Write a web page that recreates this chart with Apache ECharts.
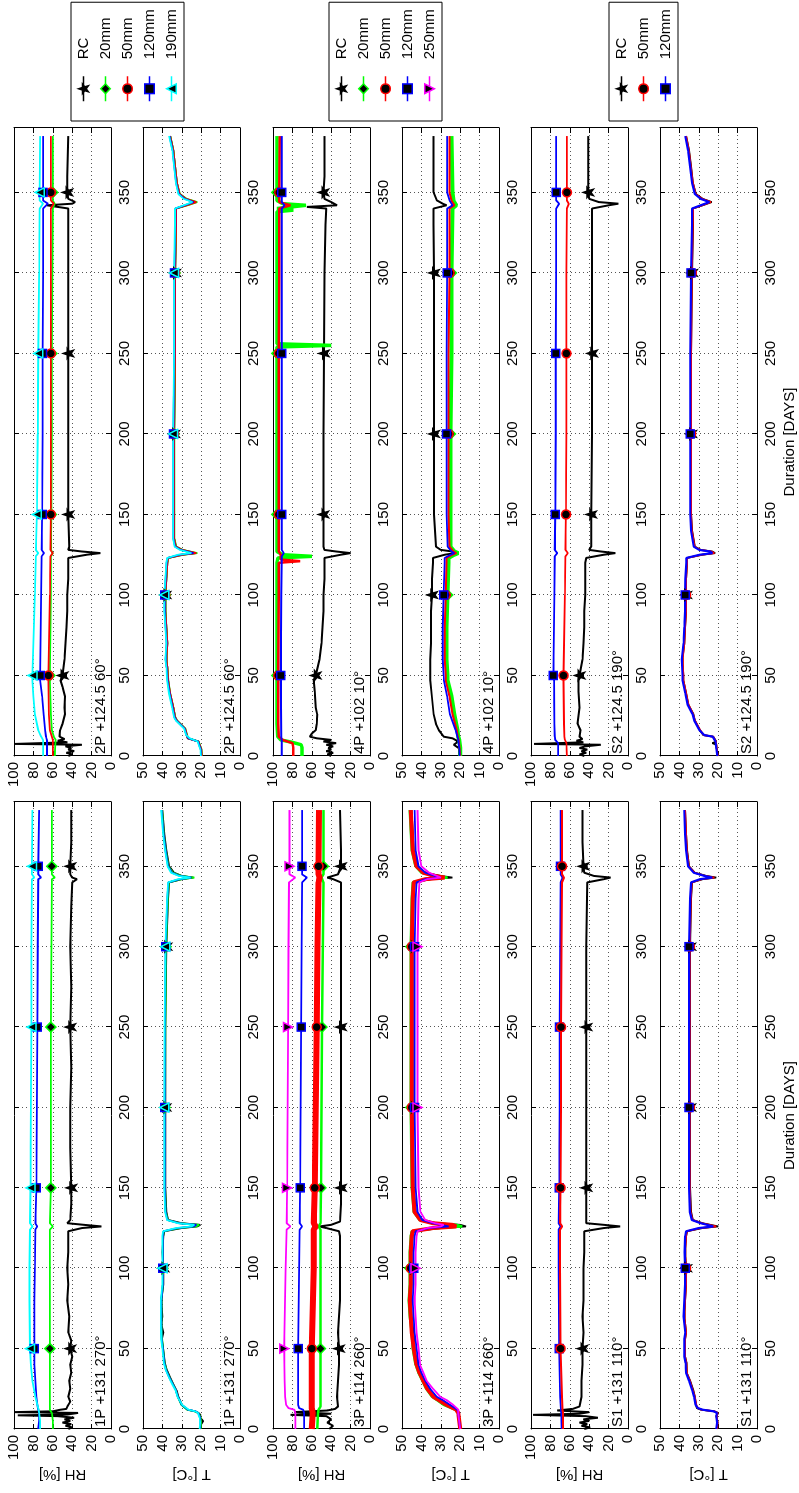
<!DOCTYPE html>
<html>
<head>
<meta charset="utf-8">
<script src="https://cdn.jsdelivr.net/npm/echarts@6.0.0/dist/echarts.min.js"></script>
<style>
  html, body { margin: 0; padding: 0; width: 799px; height: 1493px; overflow: hidden; background: #fff; }
  /* the figure is drawn upright (1493 x 799) and turned a quarter turn counter-clockwise */
  #chart { position: absolute; left: 0; top: 0; width: 1493px; height: 799px;
           transform-origin: 0 0; transform: translate(0, 1493px) rotate(-90deg); }
</style>
</head>
<body>
<div id="chart"></div>
<script>
// ---------- data: [day, value] ----------
// 1P +131 270°
const rh1P_RC = [[0,44],[1,40],[2,47],[3,41],[4,50],[5,42],[6,48],[7,38],[8,55],[8.5,96],[9,45],[10,34],[10.5,100],[11,60],[12,52],[12.5,46],[14,45],[17,42],[20,44],[25,42],[30,43],[35,41],[40,42],[45,40],[50,42],[55,41],[60,44],[70,43],[80,45],[90,44],[100,45],[110,44],[120,44],[123,44],[125,30],[126,10],[127,28],[128,45],[130,42],[140,41],[150,41],[175,42],[200,42],[225,41],[250,42],[275,41],[300,42],[325,41],[340,40],[342,35],[343,40],[345,42],[350,42],[365,41],[385,41]];
const rh1P_20 = [[0,60],[5,60],[10,61],[12,63],[20,63],[50,63],[100,63],[124,63],[126,60],[128,63],[150,62],[250,62],[340,61],[342,61],[343,58],[345,61],[350,61],[385,61]];
const rh1P_120 = [[0,75],[5,74],[10,74],[12,75],[15,76],[20,77],[30,78],[40,79],[50,79],[80,79],[100,78.5],[124,78],[126,76],[128,78],[150,77],[200,76.5],[250,76],[300,75.5],[342,75],[343,72],[345,75],[350,75],[385,74]];
const rh1P_190 = [[0,73],[5,73],[10,74],[12,74.5],[15,76],[20,78],[30,81],[40,82.5],[50,83.5],[80,84],[100,84],[124,83.5],[126,81],[128,83.5],[150,83],[200,82.5],[250,82],[300,82],[342,81.5],[343,79],[345,81.5],[350,81.5],[385,81]];
const t1P_RC = [[0,20.5],[3,20],[5,19],[7,20.5],[9,20.5],[10,21],[11,23],[12,27],[15,30],[20,31.8],[24,32.7],[28,34.4],[32,36],[37,37.8],[41,38.7],[50,39.6],[56,40.3],[60,39.5],[65,40.5],[70,40],[80,40.5],[90,39.5],[100,39.5],[110,40],[120,39.5],[123,39],[125,30],[126,22],[127,20.5],[128,30],[130,37],[135,38],[150,38.5],[200,38.5],[250,38.5],[300,38],[330,37],[340,36.5],[342,30],[343,24],[344,30],[346,34],[350,36.5],[360,38],[370,39],[385,40]];
const t1P_20 = [[0,20.3],[4,20],[7,20.3],[10,21.3],[11,23.5],[12,27.3],[15,30.2],[20,32],[24,33],[28,34.6],[32,36.2],[37,38],[41,38.9],[50,39.7],[56,40.2],[65,40.4],[80,40.5],[90,39.7],[100,39.7],[120,39.6],[123,39.2],[125,31],[126,22.5],[127,21],[128,31],[130,37.2],[135,38.2],[150,38.6],[200,38.6],[250,38.5],[300,38.1],[330,37.2],[340,36.7],[342,30],[343,23.5],[344,30],[346,34.5],[350,36.8],[360,38.2],[370,39.2],[385,40.2]];
const t1P_120 = [[0,20.6],[4,20.4],[7,20.6],[10,21.5],[11,23],[12,26.8],[15,30],[20,32],[24,33],[28,34.7],[32,36.4],[37,38.2],[41,39],[50,39.8],[56,40.4],[65,40.6],[80,40.6],[90,39.8],[100,39.8],[120,39.8],[123,39.4],[125,32],[126,24],[127,22.5],[128,31.5],[130,37.4],[135,38.4],[150,38.8],[200,38.8],[250,38.7],[300,38.3],[330,37.4],[340,36.9],[342,31],[343,25],[344,31],[346,35],[350,37],[360,38.4],[370,39.4],[385,40.4]];
const t1P_190 = [[0,20.8],[4,20.6],[7,20.8],[10,21.7],[11,23],[12,26.5],[15,29.8],[20,32.2],[24,33.2],[28,35],[32,36.6],[37,38.4],[41,39.2],[50,40],[56,40.6],[65,40.8],[80,40.8],[90,40],[100,40],[120,40],[123,39.6],[125,33],[126,25],[127,23.5],[128,32],[130,37.6],[135,38.6],[150,39],[200,39],[250,38.9],[300,38.5],[330,37.6],[340,37.1],[342,32],[343,25.5],[344,31.5],[346,35.5],[350,37.3],[360,38.6],[370,39.6],[385,40.6]];

// 3P +114 260°
const rh3P_RC = [[0,42],[2,38],[4,44],[6,40],[8,45],[8.8,82],[9.5,40],[10.5,78],[11.5,44],[12.5,36],[14,33],[20,34],[30,33],[40,32],[50,32],[60,33],[70,32],[80,31],[90,31],[100,31],[110,31],[120,31],[123,32],[125,45],[126,52],[127,40],[129,31],[140,30],[150,30],[200,30],[250,30],[300,30],[340,30],[342,38],[343,44],[345,33],[350,30],[360,30],[385,31]];
const rh3P_20 = [[0,54.5],[10,53.5],[12,53],[14,51],[20,51],[50,51],[100,51],[124,51],[126,53],[128,51],[150,50.5],[250,49.5],[340,48],[343,50],[345,48],[350,48],[385,48]];
const rh3P_50 = [[0,60],[10,59],[13,60],[20,60],[50,60],[100,58],[124,58],[126,56],[128,58],[150,57],[200,56],[250,55],[300,54],[340,53],[343,52],[345,53],[350,53],[385,52.5]];
const rh3P_120 = [[0,68],[10,68],[12,69],[13,73],[15,74],[20,74],[50,74],[100,73],[124,72.5],[126,70],[128,72.5],[150,72],[200,71.5],[250,71],[300,70.5],[340,70],[343,65],[345,70],[350,70],[385,70]];
const rh3P_250 = [[0,77],[10,77],[12,78],[13,84],[15,86.5],[20,87.5],[30,88],[50,88.5],[100,87],[124,86],[126,82],[128,86],[150,85.5],[200,85],[250,84.5],[300,84],[340,83.5],[343,77],[345,83],[350,83],[385,83]];
const t3P_RC = [[0,20],[5,20.5],[10,21],[12,22],[15,26],[18,30],[20,33],[25,37],[30,39.5],[35,41],[40,42.5],[50,43.5],[60,44],[70,45],[80,45.5],[90,45],[100,45],[110,45],[120,44.5],[123,44],[125,30],[126,17],[127,20],[128,32],[130,40],[135,43],[150,44],[200,44.5],[250,44.5],[300,44.5],[330,44],[340,43.5],[342,35],[343,24],[344,30],[346,38],[350,42],[360,44],[385,45]];
const t3P_20 = [[0,20],[5,20.5],[10,21],[12,22.5],[15,28.5],[18,32],[20,34.5],[25,37.5],[30,39.5],[35,41.5],[40,43],[50,44.5],[60,45],[70,46],[80,46.5],[90,46],[100,46],[110,46],[120,45.5],[123,45],[125,32],[126,19],[127,22],[128,34],[130,41],[135,44],[150,45],[200,45.5],[250,45.5],[300,45.5],[330,45],[340,44.5],[342,38],[343,26.5],[344,33],[346,40],[350,43],[360,45],[385,46]];
const t3P_50 = [[0,20],[5,20.5],[10,21],[12,22],[15,27],[18,31],[20,33.7],[25,37],[30,39],[35,41],[40,42.5],[50,44],[60,45],[70,45.5],[80,46],[90,45.5],[100,45.5],[110,45.5],[120,45],[123,44.5],[125,34],[126,22],[127,24],[128,34],[130,40.5],[135,43.5],[150,44.5],[200,45],[250,45],[300,45],[330,44.5],[340,44],[342,38],[343,28],[344,33],[346,39],[350,42.5],[360,44.5],[385,45.5]];
const t3P_120 = [[0,20],[5,20.5],[10,21],[12,21.5],[15,25.3],[18,29],[20,32],[25,35.5],[30,38],[35,40],[40,41.5],[50,42.5],[60,43.5],[70,44],[80,44.5],[90,44],[100,44],[110,44],[120,43.5],[123,43],[125,36],[126,26],[127,26],[128,34],[130,39.5],[135,42],[150,43],[200,43.5],[250,43.5],[300,43.5],[330,43],[340,42.5],[342,38],[343,30],[344,33],[346,38],[350,41.5],[360,43],[385,43.5]];
const t3P_250 = [[0,20],[5,20.5],[10,21],[12,21],[15,23.6],[18,27],[20,30.2],[25,34],[30,37.3],[35,39],[40,40.7],[50,41.5],[60,42.5],[70,43],[80,43.5],[90,43],[100,43],[110,43],[120,42.5],[123,42],[125,37],[126,30],[127,28.5],[128,33],[130,38],[135,40.5],[150,41.5],[200,42],[250,42],[300,42],[330,41.5],[340,41],[342,37],[343,30],[344,31],[346,36],[350,40],[360,41.5],[385,42]];

// S1 +131 110°
const rhS1_RC = [[0,45],[1,39],[2,48],[3,42],[4,50],[5,40],[6,46],[7,31],[8,44],[8.8,98],[9.5,50],[10.5,40],[11.5,73],[12.5,57],[14,50],[20,48],[30,48],[40,47],[50,47],[60,46],[70,47],[80,46],[90,46],[100,46],[110,45],[120,45],[123,45],[125,25],[126,8],[127,25],[128,43],[130,43],[150,43],[200,43],[250,43],[300,43],[340,42],[342,25],[343,18],[344,35],[346,45],[350,46],[365,47],[385,47]];
const rhS1_50 = [[0,67],[10,67],[12,67.5],[20,68],[50,69.5],[100,70],[124,70],[126,68],[128,70],[150,69.5],[200,69],[250,69],[300,68.5],[340,68],[343,66],[345,68],[350,68],[385,68]];
const rhS1_120 = [[0,68.5],[10,69],[20,70],[50,71],[100,71.5],[124,71.5],[126,69.5],[128,71.5],[150,71],[200,70.5],[250,70.5],[300,70],[340,69.5],[343,67.5],[345,69.5],[350,69.5],[385,69.5]];
const tS1_RC = [[0,20.8],[4,20.3],[8,21],[10,20],[11,22],[12,29],[13,31],[15,31.5],[20,32],[24,32.8],[30,34.5],[35,36.2],[41,36.3],[45,37],[50,37.1],[56,37],[60,36.5],[70,37.5],[80,37],[90,36.5],[100,36.5],[110,37],[120,36.5],[123,36],[125,28],[126,20],[127,19],[128,28],[130,33],[135,34],[150,34.5],[200,34.5],[250,34.5],[300,34.5],[330,34],[340,33.5],[342,28],[343,21],[344,26],[346,32],[350,35],[360,36],[370,36.5],[385,37]];
const tS1_50 = [[0,20.6],[4,20.3],[8,20.8],[10,20.3],[11,22],[12,28.5],[13,30.5],[15,31.3],[20,32],[24,33],[30,34.6],[35,36.2],[41,36.4],[45,37],[50,37.2],[56,37.1],[60,36.6],[70,37.5],[80,37.1],[90,36.6],[100,36.6],[110,37],[120,36.6],[123,36.1],[125,29],[126,21],[127,20],[128,28.5],[130,33.2],[135,34.2],[150,34.6],[200,34.6],[250,34.6],[300,34.6],[330,34.1],[340,33.6],[342,28.5],[343,22],[344,26.5],[346,32.2],[350,35.1],[360,36.1],[370,36.6],[385,37.1]];
const tS1_120 = [[0,21],[4,20.6],[8,21],[10,20.6],[11,22.3],[12,28],[13,30.5],[15,31.6],[20,32.4],[24,33.4],[30,35],[35,36.6],[41,36.8],[45,37.4],[50,37.5],[56,37.4],[60,37],[70,37.8],[80,37.4],[90,37],[100,37],[110,37.3],[120,37],[123,36.5],[125,30],[126,22.5],[127,21.5],[128,29],[130,33.6],[135,34.6],[150,35],[200,35],[250,35],[300,35],[330,34.5],[340,34],[342,29.5],[343,23],[344,27],[346,32.6],[350,35.5],[360,36.5],[370,37],[385,37.5]];

// 2P +124.5 60°
const rh2P_RC = [[0,44],[1,40],[2,46],[3,38],[4,44],[5,41],[6,47],[7,30],[7.5,99],[8.5,45],[9.5,55],[10.5,48],[12,53],[16,52.5],[20,50],[26,47.5],[30,48],[37,47.5],[43,50],[47,52],[50,50],[60,48],[70,47],[80,46],[90,45],[100,45],[110,44],[120,44],[123,44],[125,25],[126,11],[127,30],[128,44],[130,43],[150,44],[200,44],[250,44],[300,44],[340,44],[342,66],[343,40],[344,37],[346,44],[350,45],[360,45],[385,44]];
const rh2P_20 = [[0,58],[5,57.5],[10,57],[12,59],[16,61],[26,62],[47,63],[50,63],[100,62],[124,62],[126,60],[128,62],[150,61.5],[200,61],[250,61],[300,60.5],[340,60],[343,58],[345,60],[350,60],[385,60]];
const rh2P_50 = [[0,60],[10,60],[12,61],[16,63],[26,64],[47,64.5],[50,64.5],[100,63],[124,62.5],[126,60],[128,62.5],[150,62],[200,62],[250,62],[300,62],[340,62],[343,59],[345,62],[350,62],[385,62]];
const rh2P_120 = [[0,66],[10,66],[12,67],[16,68],[26,69.5],[37,71],[47,73],[50,73],[100,72],[124,71.5],[126,69],[128,71.5],[150,71],[200,70.5],[250,70.5],[300,70],[340,70],[343,65],[345,70],[350,70],[385,70]];
const rh2P_190 = [[0,70],[10,70],[12,72],[16,75],[26,78.5],[37,80],[47,81],[50,81],[70,80],[100,78.5],[124,77.5],[126,75],[128,77.5],[150,76.5],[200,75.5],[250,75],[300,74],[340,73.5],[343,70],[345,73.5],[350,73.5],[385,73]];
const t2P_RC = [[0,19.8],[4,20],[6,20.6],[9,21.5],[10,22.3],[11,27],[13,27.5],[17,28.4],[22,32.6],[24,33.5],[30,34.4],[39,36.1],[47,37],[55,37.5],[60,38],[70,37.5],[80,38],[90,38.5],[100,38.5],[110,38],[120,37.5],[123,37],[125,30],[126,23],[127,24],[128,30],[130,33],[135,34],[150,34],[200,34],[250,33.5],[300,33.5],[330,33],[340,33],[342,28],[344,23.2],[346,28],[349,31.2],[356,32.6],[366,33.5],[376,34.4],[385,36]];
const t2P_20 = [[0,19.6],[4,19.8],[6,20.4],[9,21.3],[10,22],[11,26.5],[13,27.3],[17,28.2],[22,32.4],[24,33.3],[30,34.3],[39,36],[47,36.9],[55,37.4],[60,37.9],[70,37.4],[80,37.9],[90,38.4],[100,38.4],[110,37.9],[120,37.4],[123,36.9],[125,29],[126,22],[127,23],[128,29.5],[130,32.8],[135,33.8],[150,33.9],[200,33.9],[250,33.4],[300,33.4],[330,32.9],[340,32.9],[342,27],[344,22],[346,27.5],[349,31],[356,32.5],[366,33.4],[376,34.3],[385,35.9]];
const t2P_50 = [[0,19.7],[4,19.9],[6,20.5],[9,21.4],[10,22.1],[11,26.8],[13,27.4],[17,28.3],[22,32.5],[24,33.4],[30,34.4],[39,36],[47,37],[55,37.5],[60,38],[70,37.5],[80,38],[90,38.5],[100,38.5],[110,38],[120,37.5],[123,37],[125,29.5],[126,22.5],[127,23.5],[128,29.8],[130,33],[135,34],[150,34],[200,34],[250,33.5],[300,33.5],[330,33],[340,33],[342,27.5],[344,22.5],[346,27.8],[349,31.1],[356,32.6],[366,33.5],[376,34.4],[385,36]];
const t2P_120 = [[0,20],[4,20.2],[6,20.8],[9,21.6],[10,22.4],[11,26.5],[13,27.6],[17,28.6],[22,32.8],[24,33.7],[30,34.7],[39,36.3],[47,37.3],[55,37.8],[60,38.3],[70,37.8],[80,38.3],[90,38.8],[100,38.8],[110,38.3],[120,37.8],[123,37.3],[125,31],[126,24],[127,24.5],[128,30.5],[130,33.4],[135,34.3],[150,34.3],[200,34.3],[250,33.8],[300,33.8],[330,33.3],[340,33.3],[342,28.5],[344,24],[346,28.5],[349,31.5],[356,32.9],[366,33.8],[376,34.7],[385,36.3]];
const t2P_190 = [[0,20.2],[4,20.4],[6,21],[9,21.8],[10,22.6],[11,26],[13,27.8],[17,28.8],[22,33],[24,34],[30,35],[39,36.6],[47,37.6],[55,38],[60,38.5],[70,38],[80,38.5],[90,39],[100,39],[110,38.5],[120,38],[123,37.5],[125,32],[126,25],[127,25],[128,31],[130,33.7],[135,34.5],[150,34.5],[200,34.5],[250,34],[300,34],[330,33.5],[340,33.5],[342,29],[344,24.5],[346,29],[349,31.8],[356,33.1],[366,34],[376,34.9],[385,36.5]];

// 4P +102 10°
const rh4P_RC = [[0,40],[1,44],[2,38],[3,45],[4,40],[5,43],[6,38],[7,45],[8,35],[9,48],[10,40],[11,55],[12,62],[14,60],[16,56],[20,55],[26,54.5],[30,56],[40,57],[47,58],[50,56],[60,52],[70,50],[80,49],[90,48],[100,48],[110,47],[120,47],[123,47],[125,30],[126,20],[127,35],[128,47],[130,48],[150,48],[200,48],[250,47.5],[300,47],[330,46],[340,45],[341,65],[342,34],[344,40],[346,47],[350,48],[360,47],[385,47]];
const rh4P_20 = [[0,70],[5,70],[7,71],[8.5,80],[10,92],[12,95],[20,96],[50,96],[100,96],[120,96],[123,95],[124,60],[125,90],[127,96],[150,96],[200,96],[250,96],[254,96],[255,40],[256,96],[300,96],[338,96],[339,79],[340,96],[341,95],[342,66],[343,90],[345,96],[350,96],[385,96]];
const rh4P_50 = [[0,79],[5,79],[8,80],[10,90],[12,94],[20,94.5],[50,94.5],[100,94],[120,94],[121,72],[122,92],[123,94],[125,92],[127,94],[150,94],[200,94],[250,94],[300,93.5],[340,93.5],[342,82],[344,93.5],[350,93.5],[385,93]];
const rh4P_120 = [[0,91],[10,91],[12,91.5],[50,92],[100,91.5],[124,91],[126,89],[128,91],[150,91],[250,91],[340,91],[342,88],[344,91],[350,91],[385,91]];
const t4P_RC = [[0,20.5],[5,20.8],[7,23.3],[9,21],[11,24],[12,28.5],[16,31],[20,32.5],[26,33.7],[37,34.6],[47,35.4],[50,35.5],[60,35.5],[70,35],[80,35],[90,35],[100,34.5],[110,34.5],[120,34],[123,34],[125,28],[126,22.5],[127,24],[128,30],[130,32.5],[140,33],[150,33.5],[200,33.5],[250,33.5],[300,33.5],[330,33.7],[340,33.7],[342,27],[343,29],[345,32],[350,33.7],[360,33.7],[385,33.7]];
const t4P_20 = [[0,20],[5,20],[10,20.5],[12,21],[16,21.4],[26,23],[37,24.5],[47,26.5],[50,26.5],[60,27],[70,27],[80,27],[100,26.5],[120,26],[123,26],[125,23],[126,21],[127,23],[130,25],[150,25],[200,25],[250,24.5],[300,24.5],[340,24],[342,22],[343,21.5],[345,23.5],[350,24],[385,24.5]];
const t4P_50 = [[0,20],[5,20.3],[10,20.8],[12,21.2],[16,21.8],[26,24],[37,25.5],[47,27.5],[50,27.5],[60,28],[70,28],[80,28],[100,27.5],[120,27],[123,27],[125,24],[126,22],[127,23.5],[130,25.5],[150,26],[200,26],[250,26],[300,25.5],[340,25.5],[342,23],[343,22.5],[345,24.5],[350,25.5],[385,25.5]];
const t4P_120 = [[0,20.3],[5,20.5],[10,21],[12,21.5],[16,22.4],[26,25.3],[37,26.7],[47,28.4],[50,28.5],[60,29],[70,29],[80,29],[100,28.5],[120,28],[123,28],[125,25],[126,23],[127,24.5],[130,26.5],[150,27],[200,27],[250,27],[300,26.7],[340,26.7],[342,24],[343,23.5],[345,25.5],[350,26.7],[385,26.7]];

// S2 +124.5 190°
const rhS2_RC = [[0,45],[1,50],[2,43],[3,48],[4,42],[5,50],[6,44],[7,28],[7.5,97],[8.5,46],[9.5,53],[10.5,47],[12,50],[16,49],[20,52],[30,50],[40,51],[47,51],[50,50],[60,47],[70,46],[80,45],[90,45],[100,44],[110,44],[120,44],[123,43],[125,25],[126,13],[127,28],[128,40],[130,38],[150,38],[200,37],[250,37],[300,37],[340,37],[342,20],[343,10],[344,30],[346,40],[350,41],[365,41],[385,41]];
const rhS2_50 = [[0,63],[8,63.5],[10,65],[12,65.5],[20,66],[47,66.5],[50,66.5],[100,65],[124,64.5],[126,62],[128,64.5],[150,64],[200,63.5],[250,63.5],[300,63.5],[340,63],[343,61],[345,63],[350,63],[385,63]];
const rhS2_120 = [[0,72],[8,72],[10,75],[12,75.5],[20,76],[47,76.3],[50,77],[100,76],[124,75.5],[126,73],[128,75.5],[150,75],[200,74.5],[250,74.5],[300,74],[340,74],[343,71],[345,74],[350,74],[385,74]];
const tS2_RC = [[0,20],[5,20.8],[7,21],[8,23],[9,21],[12,22.5],[13,27.7],[16,29.4],[22,32],[26,32.8],[32,35.4],[39,36.6],[47,38],[50,38],[60,38.5],[70,37.5],[80,37],[90,36.5],[100,36.5],[110,36.5],[120,36],[123,36],[125,28],[126,21.6],[127,23],[128,29],[130,32],[140,33.5],[150,34],[200,34],[250,34],[300,33.5],[330,33],[340,33],[342,28],[344,23.4],[346,28],[349,31.5],[356,33],[366,34],[376,35],[385,36.5]];
const tS2_50 = [[0,20.2],[5,20.8],[7,21],[9,21.2],[12,22.6],[13,27.5],[16,29.3],[22,32],[26,32.9],[32,35.4],[39,36.6],[47,38],[50,38],[60,38.4],[70,37.5],[80,37],[90,36.6],[100,36.6],[110,36.5],[120,36],[123,36],[125,28.5],[126,22],[127,23.5],[128,29.2],[130,32.2],[140,33.6],[150,34],[200,34],[250,34],[300,33.6],[330,33.1],[340,33],[342,28.3],[344,23.8],[346,28.3],[349,31.6],[356,33.1],[366,34.1],[376,35.1],[385,36.6]];
const tS2_120 = [[0,20.4],[5,21],[7,21.2],[9,21.4],[12,22.8],[13,27.2],[16,29.6],[22,32.3],[26,33.2],[32,35.8],[39,37],[47,38.4],[50,38.4],[60,38.8],[70,37.9],[80,37.4],[90,37],[100,37],[110,36.9],[120,36.4],[123,36.4],[125,29.5],[126,23],[127,24.2],[128,29.8],[130,32.6],[140,34],[150,34.4],[200,34.4],[250,34.4],[300,34],[330,33.5],[340,33.4],[342,29],[344,24.5],[346,29],[349,32],[356,33.5],[366,34.5],[376,35.5],[385,37]];

// days that carry a marker
const rhMarkDays = [50, 150, 250, 350];
const tMarkDays = [100, 200, 300];

// ---------- styles ----------
const FONT = '"Liberation Sans", Arial, Helvetica, sans-serif';
const STAR = 'path://M0,-10L2.4,-3.2L9.5,-3.1L3.8,1.2L5.9,8.1L0,4L-5.9,8.1L-3.8,1.2L-9.5,-3.1L-2.4,-3.2Z';
const sensorStyle = {
  'RC':    { color: '#000000', symbol: STAR, size: 10 },
  '20mm':  { color: '#00ff00', symbol: 'diamond', size: 10 },
  '50mm':  { color: '#ff0000', symbol: 'circle', size: 9 },
  '120mm': { color: '#0000ff', symbol: 'rect', size: 8 },
  '190mm': { color: '#00ffff', symbol: 'triangle', size: 9 },
  '250mm': { color: '#ff00ff', symbol: 'triangle', size: 9, rotate: 180 },
};

const colLeft = [64, 737];
const colWidth = [627, 628];
const rowTop = [14, 143, 273, 402, 531, 660];
const rowHeight = 97;

const panels = [
  { col: 0, row: 0, kind: 'RH', label: '1P +131 270°', lines: [['RC', rh1P_RC, 2], ['20mm', rh1P_20], ['120mm', rh1P_120], ['190mm', rh1P_190]] },
  { col: 0, row: 1, kind: 'T', label: '1P +131 270°', lines: [['RC', t1P_RC], ['20mm', t1P_20], ['120mm', t1P_120], ['190mm', t1P_190]] },
  { col: 0, row: 2, kind: 'RH', label: '3P +114 260°', lines: [['RC', rh3P_RC, 2], ['20mm', rh3P_20, 2.5], ['50mm', rh3P_50, 6], ['120mm', rh3P_120], ['250mm', rh3P_250]] },
  { col: 0, row: 3, kind: 'T', label: '3P +114 260°', lines: [['RC', t3P_RC], ['20mm', t3P_20, 2.5], ['50mm', t3P_50, 4], ['120mm', t3P_120], ['250mm', t3P_250]] },
  { col: 0, row: 4, kind: 'RH', label: 'S1 +131 110°', lines: [['RC', rhS1_RC, 2], ['120mm', rhS1_120], ['50mm', rhS1_50, 2]] },
  { col: 0, row: 5, kind: 'T', label: 'S1 +131 110°', lines: [['RC', tS1_RC], ['50mm', tS1_50], ['120mm', tS1_120, 2.2]] },
  { col: 1, row: 0, kind: 'RH', label: '2P +124.5 60°', lines: [['RC', rh2P_RC, 2], ['20mm', rh2P_20], ['50mm', rh2P_50], ['120mm', rh2P_120], ['190mm', rh2P_190]] },
  { col: 1, row: 1, kind: 'T', label: '2P +124.5 60°', lines: [['RC', t2P_RC], ['20mm', t2P_20], ['50mm', t2P_50], ['120mm', t2P_120], ['190mm', t2P_190]] },
  { col: 1, row: 2, kind: 'RH', label: '4P +102 10°', lines: [['RC', rh4P_RC, 2], ['20mm', rh4P_20, 3.5], ['50mm', rh4P_50, 2.5], ['120mm', rh4P_120]] },
  { col: 1, row: 3, kind: 'T', label: '4P +102 10°', lines: [['RC', t4P_RC, 2], ['20mm', t4P_20, 4], ['50mm', t4P_50, 2], ['120mm', t4P_120]] },
  { col: 1, row: 4, kind: 'RH', label: 'S2 +124.5 190°', lines: [['RC', rhS2_RC, 2], ['50mm', rhS2_50], ['120mm', rhS2_120]] },
  { col: 1, row: 5, kind: 'T', label: 'S2 +124.5 190°', lines: [['RC', tS2_RC], ['50mm', tS2_50], ['120mm', tS2_120, 2.2]] },
];

// ---------- option ----------
const grid = [], xAxis = [], yAxis = [], series = [], title = [];
const black = { color: '#000', width: 1 };
const dots = { type: [1, 3], color: '#555', width: 1 };

panels.forEach((p, i) => {
  const left = colLeft[p.col];
  const top = rowTop[p.row];
  const isRH = p.kind === 'RH';
  const yMax = isRH ? 100 : 50;
  const yStep = isRH ? 20 : 10;
  const marks = isRH ? rhMarkDays : tMarkDays;

  grid.push({ left: left, top: top, width: colWidth[p.col], height: rowHeight, outerBoundsMode: 'none', containLabel: false });

  xAxis.push({
    type: 'value', gridIndex: i, position: 'bottom', min: 0, max: 390, interval: 50,
    axisLine: { show: true, onZero: false, lineStyle: black },
    axisTick: { show: true, inside: true, length: 5, lineStyle: black },
    axisLabel: { show: true, margin: 6, fontSize: 15, color: '#000', fontFamily: FONT, showMaxLabel: false },
    splitLine: { show: true, lineStyle: dots },
    name: p.row === 5 ? 'Duration [DAYS]' : '', nameLocation: 'middle', nameGap: 25,
    nameTextStyle: { fontSize: 15, color: '#000', fontFamily: FONT },
  });
  xAxis.push({
    type: 'value', gridIndex: i, position: 'top', min: 0, max: 390, interval: 50,
    axisLine: { show: true, onZero: false, lineStyle: black },
    axisTick: { show: true, inside: true, length: 5, lineStyle: black },
    axisLabel: { show: false }, splitLine: { show: false },
  });
  yAxis.push({
    type: 'value', gridIndex: i, position: 'left', min: 0, max: yMax, interval: yStep,
    axisLine: { show: true, onZero: false, lineStyle: black },
    axisTick: { show: true, inside: true, length: 5, lineStyle: black },
    axisLabel: { show: true, margin: 6, fontSize: 15, color: '#000', fontFamily: FONT },
    splitLine: { show: true, lineStyle: dots },
    name: p.col === 0 ? (isRH ? 'RH [%]' : 'T [°C]') : '', nameLocation: 'middle', nameRotate: 90, nameGap: 38,
    nameTextStyle: { fontSize: 15, color: '#000', fontFamily: FONT },
  });
  yAxis.push({
    type: 'value', gridIndex: i, position: 'right', min: 0, max: yMax, interval: yStep,
    axisLine: { show: true, onZero: false, lineStyle: black },
    axisTick: { show: true, inside: true, length: 5, lineStyle: black },
    axisLabel: { show: false }, splitLine: { show: false },
  });

  title.push({
    text: p.label, left: left + 2, top: top + rowHeight - 18, padding: 0,
    textStyle: { fontSize: 15, fontWeight: 'normal', color: '#000', fontFamily: FONT },
  });

  p.lines.forEach(([name, pts, width]) => {
    const st = sensorStyle[name];
    series.push({
      type: 'line', name: name, xAxisIndex: 2 * i, yAxisIndex: 2 * i,
      data: pts.map(pt => (marks.indexOf(pt[0]) >= 0 ? { value: pt } : { value: pt, symbol: 'none' })),
      symbol: st.symbol, symbolSize: st.size, symbolRotate: st.rotate || 0, showSymbol: true,
      lineStyle: { color: st.color, width: width || 1.8 },
      itemStyle: { color: '#000', borderColor: st.color, borderWidth: 1.5 },
      emphasis: { disabled: true }, silent: true, animation: false,
    });
  });
});

function legendItems(names) {
  return names.map(n => ({
    name: n,
    itemStyle: { color: '#000', borderColor: sensorStyle[n].color, borderWidth: 1.5 },
    lineStyle: { color: sensorStyle[n].color, width: 1.5 },
  }));
}
const legendBase = {
  orient: 'vertical', left: 1372, itemWidth: 25, itemHeight: 12, itemGap: 5,
  padding: [4, 7, 4, 19], borderColor: '#000', borderWidth: 1, backgroundColor: '#fff', selectedMode: false,
  textStyle: { fontSize: 15, color: '#000', fontFamily: FONT, lineHeight: 17, padding: [0, 0, 0, 12] },
};
const legend = [
  Object.assign({}, legendBase, { top: 71, data: legendItems(['RC', '20mm', '50mm', '120mm', '190mm']) }),
  Object.assign({}, legendBase, { top: 329, data: legendItems(['RC', '20mm', '50mm', '120mm', '250mm']) }),
  Object.assign({}, legendBase, { top: 609, data: legendItems(['RC', '50mm', '120mm']) }),
];

const chart = echarts.init(document.getElementById('chart'), null, { renderer: 'canvas' });
chart.setOption({
  backgroundColor: '#fff',
  animation: false,
  title: title,
  legend: legend,
  grid: grid,
  xAxis: xAxis,
  yAxis: yAxis,
  series: series,
});
</script>
</body>
</html>
